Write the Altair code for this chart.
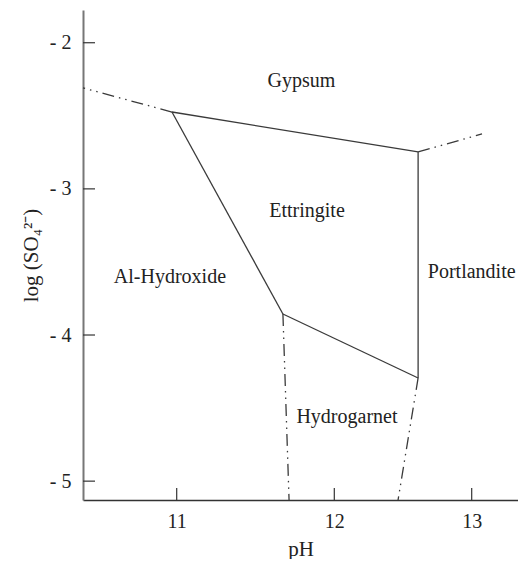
import altair as alt
import pandas as pd

# ---- data (pH, log SO4^2-) ----
vertex_names = ["A", "B", "C", "D"]
vertex_ph = [10.97, 12.61, 11.674, 12.61]
vertex_log = [-2.474, -2.747, -3.856, -4.294]

# solid phase boundaries (vertex -> vertex)
solid_from = ["A", "A", "C", "B"]
solid_to = ["B", "C", "D", "D"]

# dash-dot-dot (extrapolated) boundaries: vertex -> open end
dash_from = ["A", "B", "C", "D"]
dash_end_ph = [10.405, 13.075, 11.713, 12.464]
dash_end_log = [-2.309, -2.624, -5.129, -5.129]

region_names = ["Gypsum", "Ettringite", "Al-Hydroxide", "Portlandite", "Hydrogarnet"]
region_ph = [11.791, 11.827, 10.957, 13.0, 12.092]
region_log = [-2.300, -3.192, -3.642, -3.607, -4.600]

x_ticks = [11, 12, 13]
y_ticks = [-2, -3, -4, -5]
x_domain = [10.405, 11, 12, 13, 13.337]
y_domain = [-5.129, -1.776]

# ---- build tables ----
vx = dict(zip(vertex_names, vertex_ph))
vy = dict(zip(vertex_names, vertex_log))
solid_df = pd.DataFrame({
    "x1": [vx[a] for a in solid_from], "y1": [vy[a] for a in solid_from],
    "x2": [vx[b] for b in solid_to], "y2": [vy[b] for b in solid_to],
})
dash_df = pd.DataFrame({
    "x1": [vx[a] for a in dash_from], "y1": [vy[a] for a in dash_from],
    "x2": dash_end_ph, "y2": dash_end_log,
})
label_df = pd.DataFrame({"name": region_names, "x": region_ph, "y": region_log})
xt_df = pd.DataFrame({"v": x_ticks})
yt_df = pd.DataFrame({"v": y_ticks})

W, H = 435, 490
F = "Liberation Serif"
INK = "#222222"
LINE = "#3a3a3a"

xs = alt.Scale(domain=x_domain, range=[0, 93.7, 251.3, 388.7, W], nice=False, zero=False)
ys = alt.Scale(domain=y_domain, nice=False, zero=False)

xaxis = alt.Axis(values=x_ticks, format="d", tickSize=0, grid=False,
                 labelFont=F, labelFontSize=20, labelColor=INK, labelPadding=11,
                 domainColor="#333333", domainWidth=1.5,
                 titleFont=F, titleFontSize=21, titleFontWeight="normal",
                 titleColor=INK, titlePadding=7)
yaxis = alt.Axis(values=y_ticks, labelExpr="'- ' + abs(datum.value)", tickSize=0, grid=False,
                 labelFont=F, labelFontSize=20, labelColor=INK, labelPadding=12,
                 domainColor="#777777", domainWidth=2,
                 titleFont=F, titleFontSize=21, titleFontWeight="normal",
                 titleColor=INK, titlePadding=8)

XT = "pH"
YT = "log (SO₄²⁻)"

solid = alt.Chart(solid_df).mark_rule(color=LINE, strokeWidth=1.3).encode(
    x=alt.X("x1:Q", scale=xs, axis=xaxis, title=XT),
    y=alt.Y("y1:Q", scale=ys, axis=yaxis, title=YT),
    x2="x2:Q", y2="y2:Q",
)
dashed = alt.Chart(dash_df).mark_rule(color=LINE, strokeWidth=1.3,
                                      strokeDash=[12, 5, 1.5, 5, 1.5, 5]).encode(
    x=alt.X("x1:Q", scale=xs, axis=xaxis, title=XT),
    y=alt.Y("y1:Q", scale=ys, axis=yaxis, title=YT),
    x2="x2:Q", y2="y2:Q",
)
xticks = alt.Chart(xt_df).mark_rule(color="#333333", strokeWidth=1.2).encode(
    x=alt.X("v:Q", scale=xs, axis=xaxis, title=XT),
    y=alt.value(H), y2=alt.value(H - 12),
)
yticks = alt.Chart(yt_df).mark_rule(color="#333333", strokeWidth=1.2).encode(
    y=alt.Y("v:Q", scale=ys, axis=yaxis, title=YT),
    x=alt.value(0), x2=alt.value(12),
)
labels = alt.Chart(label_df).mark_text(font=F, fontSize=20, color=INK,
                                       align="center", baseline="alphabetic").encode(
    x=alt.X("x:Q", scale=xs, axis=xaxis, title=XT),
    y=alt.Y("y:Q", scale=ys, axis=yaxis, title=YT),
    text="name:N",
)

chart = alt.layer(solid, dashed, xticks, yticks, labels).properties(
    width=W, height=H,
    autosize=alt.AutoSizeParams(type="none"),
    padding={"left": 75, "top": 2, "right": 0, "bottom": 59},
    background="white",
).configure_view(stroke=None)

chart.save("out.html", embed_options={"renderer": "svg", "actions": False})
